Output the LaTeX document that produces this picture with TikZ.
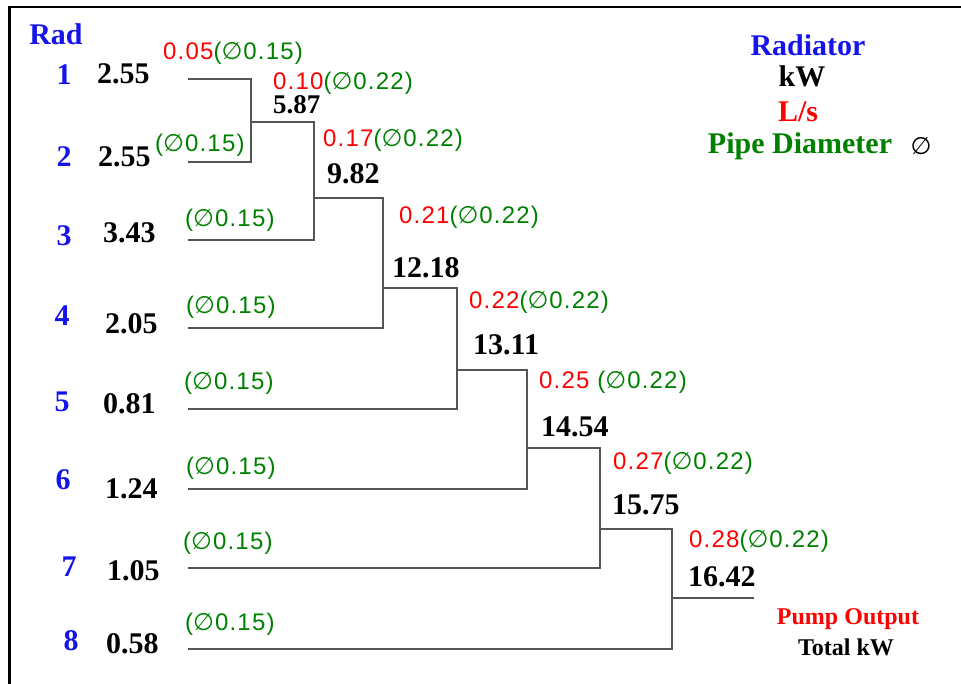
\documentclass[tikz,border=0pt]{standalone}
\usepackage{fontspec}
\setmainfont{Liberation Serif}
\newfontfamily\pipefont[LetterSpace=5]{Liberation Sans}
\newfontfamily\diafont{DejaVu Sans}
\definecolor{radblue}{RGB}{20,20,235}
\definecolor{flowred}{RGB}{255,0,0}
\definecolor{pipegreen}{RGB}{0,128,0}
\definecolor{pipegray}{RGB}{85,85,85}
\newcommand{\dm}{{\diafont ∅}\kern1pt}
\tikzset{
  pipe/.style={draw=pipegray, line width=2.2pt},
  radno/.style={inner sep=0pt, text=radblue, font=\fontsize{30}{30}\selectfont\bfseries},
  kwval/.style={inner sep=0pt, anchor=west, font=\fontsize{30}{30}\selectfont\bfseries},
  pipelab/.style={inner sep=0pt, anchor=west, text=pipegreen, font=\fontsize{24}{24}\selectfont\pipefont},
  legend/.style={inner sep=0pt, font=\fontsize{30}{30}\selectfont\bfseries},
}
\begin{document}
\begin{tikzpicture}[x=1pt, y=-1pt]
  \useasboundingbox (0,0) rectangle (961,684);
  % frame
  \draw[line width=2.5pt] (961,7) -- (9.5,7) -- (9.5,684);

  % radiator numbers
  \node[radno] (rad) at (56,34) {Rad};
  \foreach \n/\x/\y in {1/64/75, 2/64/157, 3/64/236, 4/62/316, 5/62/402, 6/63/480, 7/69/567, 8/71/641}
    \node[radno] (r\n) at (\x,\y) {\n};

  % radiator kW
  \foreach \n/\x/\y/\v in {1/97/74/2.55, 2/98/157/2.55, 3/103/233/3.43, 4/105/324/2.05,
                           5/103/404/0.81, 6/105/489/1.24, 7/107/571/1.05, 8/106/644/0.58}
    \node[kwval] (kw\n) at (\x,\y) {\v};

  % pipe ends and junctions
  \foreach \n/\y in {1/79, 2/162, 3/240, 4/328, 5/409, 6/489, 7/568, 8/649}
    \coordinate (l\n) at (188,\y);
  \coordinate (j1) at (251,122);
  \coordinate (j2) at (314,198);
  \coordinate (j3) at (383,288);
  \coordinate (j4) at (457,370);
  \coordinate (j5) at (527,448);
  \coordinate (j6) at (600,529);
  \coordinate (j7) at (672,598);
  \coordinate (out) at (754,598);

  % pipes
  \draw[pipe] (l1) -| (j1) |- (l2);
  \foreach \a/\b/\c in {j1/j2/l3, j2/j3/l4, j3/j4/l5, j4/j5/l6, j5/j6/l7, j6/j7/l8}
    \draw[pipe] (\a) -| (\b) |- (\c);
  \draw[pipe] (j7) -- (out);

  % branch pipes (L/s, diameter)
  \node[pipelab] (p1) at (163,53) {\textcolor{flowred}{0.05}(\dm0.15)};
  \foreach \n/\x/\y in {2/155/145, 3/185/220, 4/186/307, 5/184/383, 6/186/468, 7/183/543, 8/185/624}
    \node[pipelab] (p\n) at (\x,\y) {(\dm0.15)};

  % main pipes
  \foreach \n/\x/\y/\f in {1/273/83/0.10, 2/323/140/0.17, 3/399/217/0.21, 4/469/302/0.22,
                           5/539/382/0.25\ , 6/613/463/0.27, 7/689/541/0.28}
    \node[pipelab] (q\n) at (\x,\y) {\textcolor{flowred}{\f}(\dm0.22)};

  % running totals kW
  \node[kwval, font=\fontsize{27}{27}\selectfont\bfseries] (s1) at (273,105) {5.87};
  \foreach \n/\x/\y/\v in {2/327/174/9.82, 3/392/268/12.18, 4/473/345/13.11,
                           5/541/427/14.54, 6/612/505/15.75, 7/688/577/16.42}
    \node[kwval] (s\n) at (\x,\y) {\v};

  % legend
  \node[legend, text=radblue] (lgrad) at (808,45) {Radiator};
  \node[legend] (lgkw) at (802,76) {kW};
  \node[legend, text=flowred] (lgls) at (798,112) {L/s};
  \node[legend, text=pipegreen] (lgdia) at (800,146) {Pipe Diameter};
  \node[inner sep=0pt, font=\fontsize{24}{24}\selectfont\diafont] (lgsym) at (921,146) {∅};

  % pump output
  \node[legend, text=flowred, font=\fontsize{24}{24}\selectfont\bfseries] (pump) at (848,619) {Pump Output};
  \node[legend, font=\fontsize{24}{24}\selectfont\bfseries] (total) at (846,647) {Total kW};
\end{tikzpicture}
\end{document}
